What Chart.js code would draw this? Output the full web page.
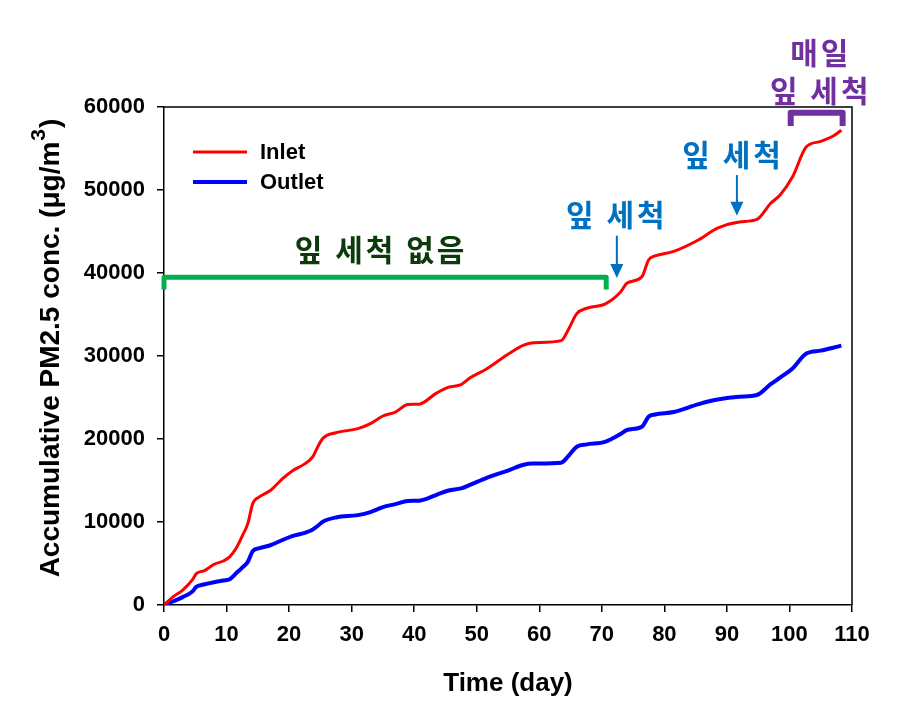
<!DOCTYPE html>
<html>
<head>
<meta charset="utf-8">
<script src="https://cdn.jsdelivr.net/npm/chart.js@4.4.0/dist/chart.umd.min.js"></script>
<style>
  html, body { margin: 0; padding: 0; background: #fff; }
  #wrap { width: 911px; height: 712px; position: relative; }
</style>
</head>
<body>
<div id="wrap"><canvas id="myChart" width="911" height="712"></canvas></div>
<script>
// values (day, cumulative ug/m3)
const days = [0, 1.5, 3, 4.5, 5.2, 6.5, 8, 9.5, 10.5, 11.5, 12.5, 13.4, 14.2, 15.3, 17, 19, 20.5, 22.5, 23.8, 24.6, 25.4, 27.5, 31, 33, 35, 37, 39, 40.8, 43.5, 45.5, 47.5, 49, 51.5, 55, 57.5, 59, 63.5, 64.6, 66, 67.6, 70.5, 73, 74, 76.4, 77.5, 78.5, 81.5, 85.5, 88.5, 92, 94.8, 97, 98.5, 100.5, 102.7, 105, 107, 108.3];
const inletValues = [0, 1000, 1800, 3000, 3800, 4150, 4900, 5300, 5800, 6800, 8300, 9800, 12250, 13050, 13800, 15250, 16150, 17000, 17870, 19080, 20080, 20750, 21250, 21850, 22770, 23250, 24150, 24200, 25500, 26250, 26550, 27400, 28400, 30200, 31300, 31600, 31850, 33100, 35100, 35750, 36250, 37700, 38760, 39550, 41600, 42050, 42600, 44000, 45400, 46150, 46450, 48400, 49400, 51600, 55200, 55850, 56500, 57200];
const outletValues = [0, 450, 950, 1600, 2200, 2500, 2750, 2950, 3100, 3800, 4500, 5200, 6500, 6850, 7200, 7850, 8300, 8700, 9100, 9550, 10040, 10550, 10830, 11200, 11800, 12150, 12530, 12570, 13250, 13800, 14050, 14500, 15300, 16200, 16900, 17050, 17150, 17900, 19070, 19350, 19650, 20600, 21080, 21480, 22700, 22950, 23250, 24200, 24750, 25100, 25300, 26600, 27400, 28500, 30300, 30650, 31000, 31250];
const seriesNames = ["Inlet", "Outlet"];
const xTicks = [0, 10, 20, 30, 40, 50, 60, 70, 80, 90, 100, 110];
const yTicks = [0, 10000, 20000, 30000, 40000, 50000, 60000];

const LATIN = "'Liberation Sans', Arial, sans-serif";
const KOREAN = "'Noto Sans CJK KR', sans-serif";

function toPoints(values) {
  return days.map((d, i) => ({ x: d, y: values[i] }));
}

function returnData() {
  return {
    datasets: [
      {
        label: seriesNames[0],
        data: toPoints(inletValues),
        borderColor: "#FF0000",
        borderWidth: 3,
        pointRadius: 0,
        cubicInterpolationMode: "monotone",
      },
      {
        label: seriesNames[1],
        data: toPoints(outletValues),
        borderColor: "#0000FF",
        borderWidth: 4,
        pointRadius: 0,
        cubicInterpolationMode: "monotone",
      },
    ],
  };
}

function returnScalesSettings() {
  const tickFont = { family: LATIN, size: 22, weight: "bold" };
  return {
    x: {
      type: "linear",
      min: 0,
      max: 110,
      afterBuildTicks: (s) => { s.ticks = xTicks.map((v) => ({ value: v })); },
      afterFit: (s) => { s.height = 107; },
      grid: { display: true, drawOnChartArea: false, drawTicks: true, tickLength: 7, color: "#000", lineWidth: 1.5 },
      border: { display: true, color: "#000", width: 1.5 },
      ticks: { color: "#000", font: tickFont, padding: 10, maxRotation: 0 },
    },
    y: {
      type: "linear",
      min: 0,
      max: 60000,
      afterBuildTicks: (s) => { s.ticks = yTicks.map((v) => ({ value: v })); },
      afterFit: (s) => { s.width = 164; },
      grid: { display: true, drawOnChartArea: false, drawTicks: true, tickLength: 7, color: "#000", lineWidth: 1.5 },
      border: { display: true, color: "#000", width: 1.5 },
      ticks: { color: "#000", font: tickFont, padding: 12, callback: (v) => String(v) },
    },
  };
}

// frame, titles, legend and the Korean notes
const extrasPlugin = {
  id: "extras",
  afterDatasetsDraw(chart) {
    const ctx = chart.ctx;
    const area = chart.chartArea;
    const xs = chart.scales.x;
    const ys = chart.scales.y;
    const px = (v) => xs.getPixelForValue(v);
    const py = (v) => ys.getPixelForValue(v);

    ctx.save();
    // top and right frame lines
    ctx.strokeStyle = "#000";
    ctx.lineWidth = 1.5;
    ctx.beginPath();
    ctx.moveTo(area.left, area.top);
    ctx.lineTo(area.right, area.top);
    ctx.lineTo(area.right, area.bottom);
    ctx.stroke();

    // axis titles
    ctx.fillStyle = "#000";
    ctx.font = "bold 26px " + LATIN;
    ctx.textAlign = "center";
    ctx.textBaseline = "middle";
    ctx.fillText("Time (day)", 508, 684);

    ctx.save();
    ctx.translate(59, 349);
    ctx.rotate(-Math.PI / 2);
    ctx.textBaseline = "alphabetic";
    ctx.textAlign = "left";
    const main = "Accumulative PM2.5 conc. (\u03bcg/m";
    ctx.font = "bold 28px " + LATIN;
    const w1 = ctx.measureText(main).width;
    ctx.font = "bold 21px " + LATIN;
    const w2 = ctx.measureText("3").width;
    ctx.font = "bold 28px " + LATIN;
    const w3 = ctx.measureText(")").width;
    let x0 = -(w1 + w2 + w3) / 2;
    ctx.fillText(main, x0, 0);
    ctx.font = "bold 21px " + LATIN;
    ctx.fillText("3", x0 + w1 + 1, -14);
    ctx.font = "bold 28px " + LATIN;
    ctx.fillText(")", x0 + w1 + w2 + 2, 0);
    ctx.restore();

    // legend
    const legend = [
      { name: seriesNames[0], color: "#FF0000", width: 3, y: 152 },
      { name: seriesNames[1], color: "#0000FF", width: 4, y: 182 },
    ];
    ctx.font = "bold 22px " + LATIN;
    ctx.textAlign = "left";
    ctx.textBaseline = "middle";
    legend.forEach((item) => {
      ctx.strokeStyle = item.color;
      ctx.lineWidth = item.width;
      ctx.beginPath();
      ctx.moveTo(193, item.y);
      ctx.lineTo(247, item.y);
      ctx.stroke();
      ctx.fillStyle = "#000";
      ctx.fillText(item.name, 260, item.y + 1);
    });

    // brackets
    ctx.lineJoin = "round";
    ctx.lineCap = "butt";
    drawBracket(ctx, px(0), px(70.7), py(39500), py(38000), "#00B050", 5);
    drawBracket(ctx, px(100.2), px(108.5), py(59300), py(57700), "#7030A0", 6);

    // arrows
    drawArrow(ctx, px(72.4), py(44500), py(39400), "#0070C0");
    drawArrow(ctx, px(91.6), py(51800), py(46900), "#0070C0");

    // korean notes
    drawNote(ctx, "잎 세척 없음", px(34.7), py(42800), "#0B3B0B");
    drawNote(ctx, "잎 세척", px(72.4), py(47000), "#0070C0");
    drawNote(ctx, "잎 세척", px(91.0), py(54300), "#0070C0");
    drawNote(ctx, "매일", px(105.0), py(66500), "#7030A0");
    drawNote(ctx, "잎 세척", px(105.0), py(62000), "#7030A0");
    ctx.restore();
  },
};

function drawBracket(ctx, left, right, top, bottom, color, width) {
  ctx.strokeStyle = color;
  ctx.lineWidth = width;
  ctx.beginPath();
  ctx.moveTo(left, bottom);
  ctx.lineTo(left, top);
  ctx.lineTo(right, top);
  ctx.lineTo(right, bottom);
  ctx.stroke();
}

function drawArrow(ctx, x, yFrom, yTo, color) {
  ctx.strokeStyle = color;
  ctx.fillStyle = color;
  ctx.lineWidth = 2;
  ctx.beginPath();
  ctx.moveTo(x, yFrom);
  ctx.lineTo(x, yTo - 12);
  ctx.stroke();
  ctx.beginPath();
  ctx.moveTo(x - 6.5, yTo - 14);
  ctx.lineTo(x + 6.5, yTo - 14);
  ctx.lineTo(x, yTo);
  ctx.closePath();
  ctx.fill();
}

function drawNote(ctx, text, x, y, color) {
  ctx.font = "bold 30px " + KOREAN;
  ctx.letterSpacing = "3px";
  ctx.fillStyle = color;
  ctx.textAlign = "center";
  ctx.textBaseline = "middle";
  ctx.fillText(text, x, y);
  ctx.letterSpacing = "0px";
}

function chart() {
  const ctx = document.getElementById("myChart");
  new Chart(ctx, {
    type: "line",
    data: returnData(),
    options: {
      responsive: false,
      animation: false,
      layout: { padding: { top: 107, right: 59, left: 0, bottom: 0 } },
      scales: returnScalesSettings(),
      plugins: { legend: { display: false }, tooltip: { enabled: false } },
    },
    plugins: [extrasPlugin],
  });
}

chart();
</script>
</body>
</html>
